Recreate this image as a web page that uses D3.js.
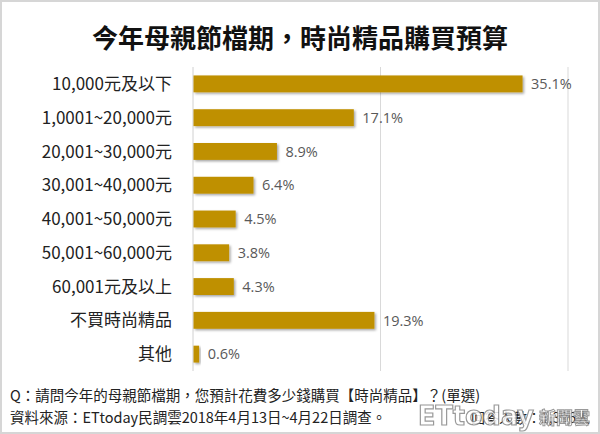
<!DOCTYPE html>
<html><head><meta charset="utf-8">
<script src="https://cdn.jsdelivr.net/npm/d3@7"></script>
<style>
body{margin:0;background:#fff;}
svg{display:block;}
</style></head>
<body>
<svg id="chart" width="600" height="434"></svg>
<script>
const title = "今年母親節檔期，時尚精品購買預算";
const categories = ["10,000元及以下","1,0001~20,000元","20,001~30,000元","30,001~40,000元","40,001~50,000元","50,001~60,000元","60,001元及以上","不買時尚精品","其他"];
const values = [35.1,17.1,8.9,6.4,4.5,3.8,4.3,19.3,0.6];
const gridTicks = [20,40];
const footnote1 = "Q：請問今年的母親節檔期，您預計花費多少錢購買【時尚精品】？(單選)";
const footnote2 = "資料來源：ETtoday民調雲2018年4月13日~4月22日調查。";
const sampleNote = "回答人數：1,396人";

const svg = d3.select("#chart");
const W = 600, H = 434;
const cjk = "'Noto Sans CJK TC','Noto Sans CJK SC',sans-serif";

const defs = svg.append("defs");
const f = defs.append("filter").attr("id","sh").attr("x","-10%").attr("y","-30%").attr("width","130%").attr("height","180%");
f.append("feDropShadow").attr("dx",1.5).attr("dy",1.5).attr("stdDeviation",1).attr("flood-color","#000").attr("flood-opacity",0.35);

svg.append("rect").attr("x",1).attr("y",1).attr("width",W-2).attr("height",H-2)
  .attr("fill","#fff").attr("stroke","#d6d6d6").attr("stroke-width",2);

svg.append("text").attr("x",300).attr("y",48).attr("text-anchor","middle")
  .attr("font-family",cjk).attr("font-weight","bold").attr("font-size",26).attr("fill","#111")
  .text(title);

const x = d3.scaleLinear().domain([0,40]).range([193,568]);
const y = d3.scaleBand().domain(categories).range([67,371]).paddingInner(0.5).paddingOuter(0.25);

svg.append("g").selectAll("line").data(gridTicks).join("line")
  .attr("x1",d=>x(d)).attr("x2",d=>x(d)).attr("y1",67).attr("y2",371)
  .attr("stroke","#d9d9d9").attr("stroke-width",1);

svg.append("line").attr("x1",x(0)).attr("x2",x(0)).attr("y1",67).attr("y2",371)
  .attr("stroke","#d0d0d0").attr("stroke-width",1);

const data = categories.map((c,i)=>({c, v: values[i]}));

svg.append("g").selectAll("rect").data(data).join("rect")
  .attr("x",x(0)+0.5).attr("y",d=>y(d.c)).attr("width",d=>x(d.v)-x(0)).attr("height",y.bandwidth())
  .attr("fill","#BF9000").attr("filter","url(#sh)");

svg.append("g").selectAll("text").data(data).join("text")
  .attr("x",172).attr("y",d=>y(d.c)+y.bandwidth()/2).attr("dy","0.36em")
  .attr("text-anchor","end").attr("font-family",cjk).attr("font-size",17).attr("fill","#222")
  .text(d=>d.c);

svg.append("g").selectAll("text").data(data).join("text")
  .attr("x",d=>x(d.v)+9).attr("y",d=>y(d.c)+y.bandwidth()/2).attr("dy","0.36em")
  .attr("font-family","'Open Sans','Noto Sans',sans-serif").attr("font-size",14.5).attr("fill","#595959")
  .text(d=>d.v.toFixed(1)+"%");

svg.append("text").attr("x",10).attr("y",401).attr("font-family",cjk).attr("font-size",14.5).attr("fill","#222").text(footnote1);
svg.append("text").attr("x",10).attr("y",423).attr("font-family",cjk).attr("font-size",14.5).attr("fill","#222").text(footnote2);
svg.append("text").attr("x",590).attr("y",423).attr("text-anchor","end").attr("font-family",cjk).attr("font-size",14).attr("fill","#222").text(sampleNote);

// watermark
const wm = svg.append("g").attr("opacity",0.85);
wm.append("text").attr("x",418).attr("y",425).attr("font-family","'DejaVu Sans',sans-serif").attr("font-weight","bold")
  .attr("font-size",26).attr("textLength",116).attr("lengthAdjust","spacingAndGlyphs")
  .attr("fill","#fff").attr("stroke","#888").attr("stroke-width",1.2).text("ETtoday");
wm.append("text").attr("x",539).attr("y",424).attr("font-family",cjk).attr("font-weight","bold")
  .attr("font-size",17).attr("fill","#fff").attr("stroke","#888").attr("stroke-width",1).text("新聞雲");
</script>
</body></html>
